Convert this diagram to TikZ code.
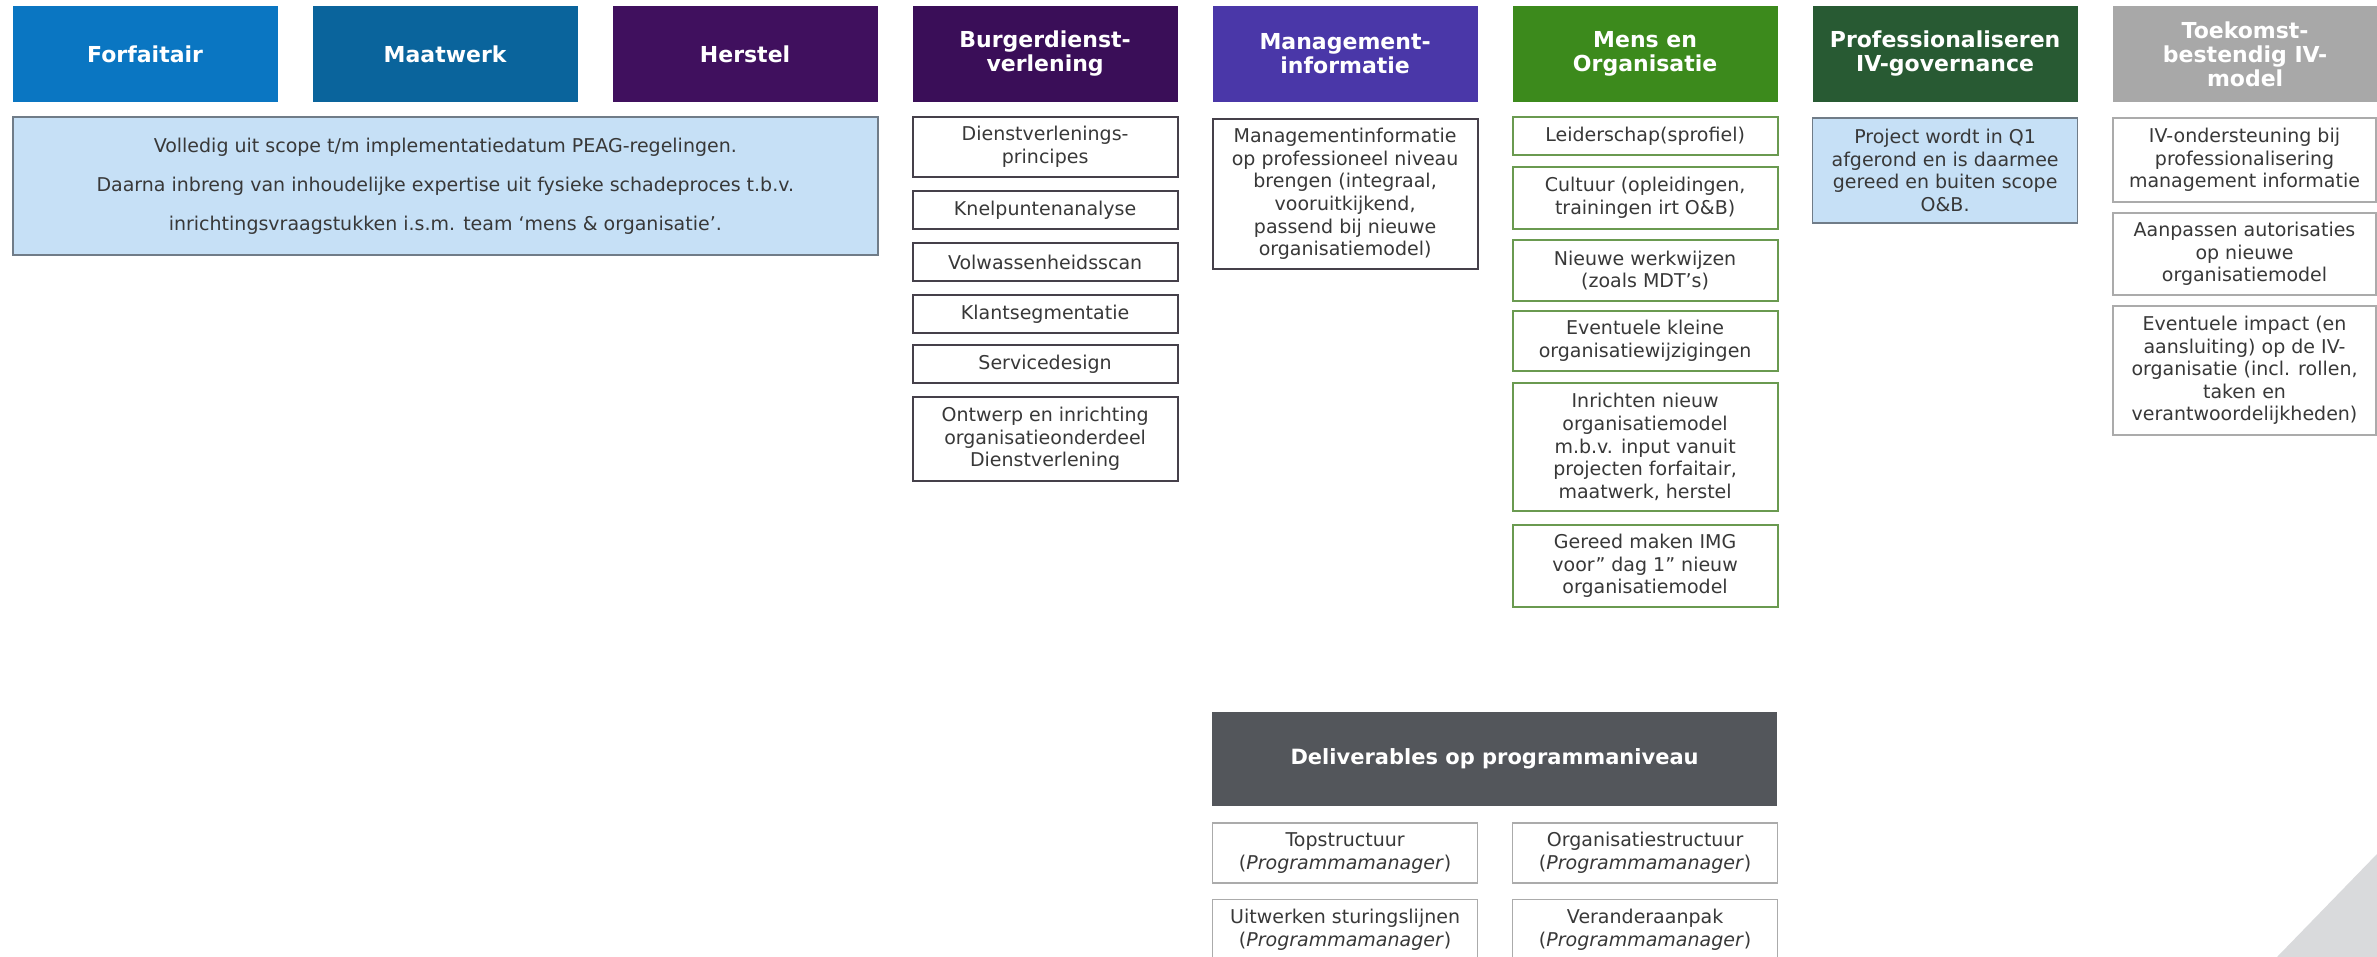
\documentclass[tikz,border=0pt]{standalone}
\usepackage{fontspec}
\setmainfont{DejaVu Sans}
\usepackage{tikz}

\definecolor{cForf}{HTML}{0A76C2}
\definecolor{cMaat}{HTML}{0A649C}
\definecolor{cHerst}{HTML}{40105E}
\definecolor{cBurg}{HTML}{3A0E58}
\definecolor{cMgmt}{HTML}{4A37A8}
\definecolor{cMens}{HTML}{3C8A1C}
\definecolor{cProf}{HTML}{285A33}
\definecolor{cToek}{HTML}{A8A8A8}
\definecolor{cDeliv}{HTML}{53565B}
\definecolor{cLight}{HTML}{C6E0F6}
\definecolor{cLightEdge}{HTML}{707C88}
\definecolor{cTxt}{HTML}{383838}
\definecolor{cDark}{HTML}{45404A}
\definecolor{cGreenEdge}{HTML}{6A9A50}
\definecolor{cGrayEdge}{HTML}{ABABAB}
\definecolor{cTri}{HTML}{D9DADC}

\begin{document}
\begin{tikzpicture}[x=1pt, y=-1pt,
        hdr/.style ={fill=#1, text=white, inner sep=0pt, align=center,
                     minimum width=265pt, minimum height=96pt,
                     font=\fontsize{22}{24}\selectfont\bfseries},
        item/.style={draw=#1, fill=white, line width=2pt, text=cTxt,
                     inner sep=0pt, align=center, minimum width=265pt,
                     font=\fontsize{19}{22.6}\selectfont},
        thin/.style={item=cGrayEdge, line width=1.5pt},
        note/.style={item=cLightEdge, fill=cLight, line width=1.5pt}]
    \useasboundingbox (0,0) rectangle (2377,957);
    \clip (0,0) rectangle (2377,957);

    %--- Headers ---
    \node[hdr=cForf]  (forf)  at (145.1,54) {Forfaitair};
    \node[hdr=cMaat]  (maat)  at (445.1,54) {Maatwerk};
    \node[hdr=cHerst] (herst) at (745.1,54) {Herstel};
    \node[hdr=cBurg]  (burg)  at (1045.1,54) {Burgerdienst-\\verlening};
    \node[hdr=cMgmt]  (mgmt)  at (1345.1,54) {Management-\\informatie};
    \node[hdr=cMens]  (mens)  at (1645.1,54) {Mens en\\Organisatie};
    \node[hdr=cProf]  (prof)  at (1945.1,54) {Professionaliseren\\IV-governance};
    \node[hdr=cToek]  (toek)  at (2245.1,54) {Toekomst-\\bestendig IV-\\model};

    %--- Forfaitair / Maatwerk / Herstel ---
    \node[note, minimum width=865pt, minimum height=138pt,
          font=\fontsize{19}{39}\selectfont] (scope) at (445.3,186)
        {Volledig uit scope t/m implementatiedatum PEAG-regelingen.\\
         Daarna inbreng van inhoudelijke expertise uit fysieke schadeproces t.b.v.\\
         inrichtingsvraagstukken i.s.m. team ‘mens \& organisatie’.};

    %--- Burgerdienstverlening ---
    \node[item=cDark, minimum height=60pt] (burgA) at (1045.1,147) {Dienstverlenings-\\principes};
    \node[item=cDark, minimum height=38pt] (burgB) at (1045.1,210) {Knelpuntenanalyse};
    \node[item=cDark, minimum height=38pt] (burgC) at (1045.1,262) {Volwassenheidsscan};
    \node[item=cDark, minimum height=38pt] (burgD) at (1045.1,314) {Klantsegmentatie};
    \node[item=cDark, minimum height=38pt] (burgE) at (1045.1,364) {Servicedesign};
    \node[item=cDark, minimum height=84pt] (burgF) at (1045.1,439)
        {Ontwerp en inrichting\\organisatieonderdeel\\Dienstverlening};

    %--- Managementinformatie ---
    \node[item=cDark, minimum height=150pt] (mgmtA) at (1345.1,194)
        {Managementinformatie\\op professioneel niveau\\brengen (integraal,\\
         vooruitkijkend,\\passend bij nieuwe\\organisatiemodel)};

    %--- Mens en Organisatie ---
    \node[item=cGreenEdge, minimum height=38pt]  (mensA) at (1645.1,136) {Leiderschap(sprofiel)};
    \node[item=cGreenEdge, minimum height=62pt]  (mensB) at (1645.1,198) {Cultuur (opleidingen,\\trainingen irt O\&B)};
    \node[item=cGreenEdge, minimum height=61pt]  (mensC) at (1645.1,270.5) {Nieuwe werkwijzen\\(zoals MDT’s)};
    \node[item=cGreenEdge, minimum height=60pt]  (mensD) at (1645.1,341) {Eventuele kleine\\organisatiewijzigingen};
    \node[item=cGreenEdge, minimum height=128pt] (mensE) at (1645.1,447)
        {Inrichten nieuw\\organisatiemodel\\m.b.v. input vanuit\\projecten forfaitair,\\maatwerk, herstel};
    \node[item=cGreenEdge, minimum height=82pt]  (mensF) at (1645.1,566)
        {Gereed maken IMG\\voor” dag 1” nieuw\\organisatiemodel};

    %--- Professionaliseren IV-governance ---
    \node[note, minimum height=105pt] (profA) at (1945.1,170.5)
        {Project wordt in Q1\\afgerond en is daarmee\\gereed en buiten scope\\O\&B.};

    %--- Toekomstbestendig IV-model ---
    \node[thin, minimum width=263pt, minimum height=84pt]  (toekA) at (2244.5,160)
        {IV-ondersteuning bij\\professionalisering\\management informatie};
    \node[thin, minimum width=263pt, minimum height=82pt]  (toekB) at (2244.5,254)
        {Aanpassen autorisaties\\op nieuwe\\organisatiemodel};
    \node[thin, minimum width=263pt, minimum height=129pt] (toekC) at (2244.5,370.5)
        {Eventuele impact (en\\aansluiting) op de IV-\\organisatie (incl. rollen,\\taken en\\verantwoordelijkheden)};

    %--- Deliverables op programmaniveau ---
    \node[hdr=cDeliv, minimum width=565pt, minimum height=94pt,
          font=\fontsize{21}{24}\selectfont\bfseries] (deliv) at (1494.6,759)
        {Deliverables op programmaniveau};
    \node[thin, minimum height=60pt] (delivA) at (1345.1,853)
        {Topstructuur\\(\textit{Programmamanager})};
    \node[thin, minimum height=60pt] (delivB) at (1645.1,853)
        {Organisatiestructuur\\(\textit{Programmamanager})};
    \node[thin, minimum height=60pt] (delivC) at (1345.1,929.5)
        {Uitwerken sturingslijnen\\(\textit{Programmamanager})};
    \node[thin, minimum height=60pt] (delivD) at (1645.1,929.5)
        {Veranderaanpak\\(\textit{Programmamanager})};

    %--- Corner ---
    \fill[cTri] (2277,957) -- (2377,854) -- (2377,957) -- cycle;

    \end{tikzpicture}
\end{document}
